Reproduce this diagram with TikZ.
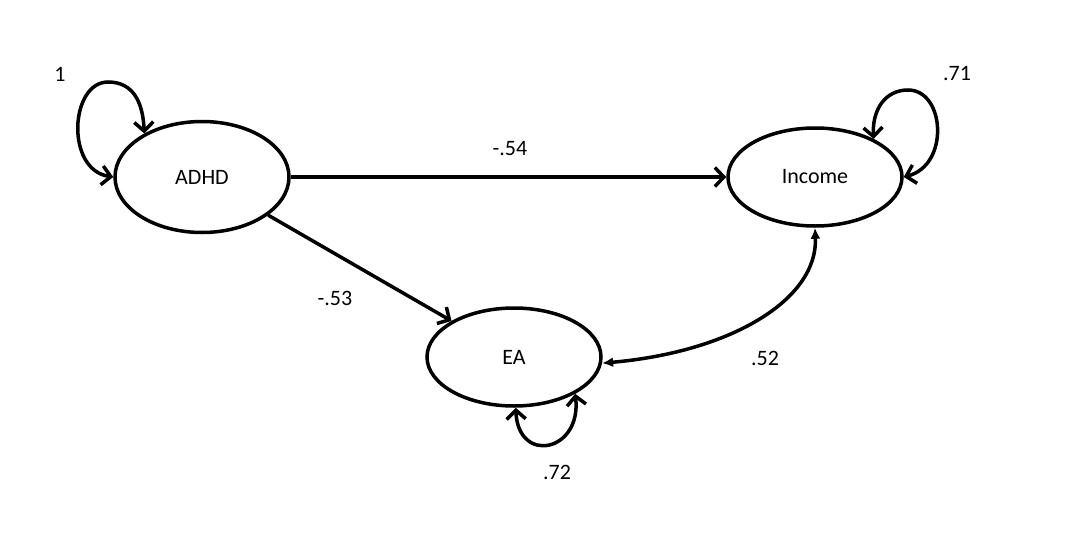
\documentclass[tikz,border=0pt]{standalone}
\usepackage{fontspec}
\setmainfont{Carlito}
\usetikzlibrary{shapes.geometric,arrows.meta}
\begin{document}
\begin{tikzpicture}[x=1pt,y=-1pt,
  var/.style={draw, line width=3.5pt, ellipse, inner sep=0pt, minimum width=174pt, minimum height=98pt, font=\fontsize{22}{26}\selectfont},
  lbl/.style={font=\fontsize{22}{26}\selectfont, inner sep=0pt},
  path1/.style={line width=3.5pt, -{Straight Barb[length=9pt,width=19pt]}},
  loop2/.style={line width=3.5pt, {Straight Barb[length=9pt,width=19pt]}-{Straight Barb[length=9pt,width=19pt]}},
  cov/.style={line width=3.5pt, {Latex[length=11pt,width=10pt]}-{Latex[length=11pt,width=10pt]}}]
\useasboundingbox (0,0) rectangle (1079,541);
\fill[white] (0,0) rectangle (1079,541);
\node[var, minimum height=111pt] (ADHD) at (202,177) {ADHD};
\node[var] (Income) at (815,177) {Income};
\node[var] (EA) at (514,357) {EA};
% paths
\draw[path1] (ADHD.east) -- (Income.west);
\draw[path1] (ADHD) -- (EA);
\draw[cov] (EA.-4) .. controls (730,352) and (818,300) .. (Income.south);
% self loops
\draw[loop2] (ADHD.west) .. controls (65,170) and (70,82) .. (108,82) .. controls (135,82) and (143,105) .. (ADHD.143);
\draw[loop2] (Income.33) .. controls (872,110) and (885,90) .. (908,90) .. controls (945,90) and (950,165) .. (Income.east);
\draw[loop2] (EA.-88) .. controls (518,465) and (582,452) .. (EA.-31);
% labels
\node[lbl] (l1) at (60,74) {1};
\node[lbl] (l71) at (957,74) {.71};
\node[lbl] (l54) at (510,149) {-.54};
\node[lbl] (l53) at (335,298) {-.53};
\node[lbl] (l52) at (765,358) {.52};
\node[lbl] (l72) at (557,472) {.72};
\end{tikzpicture}
\end{document}
